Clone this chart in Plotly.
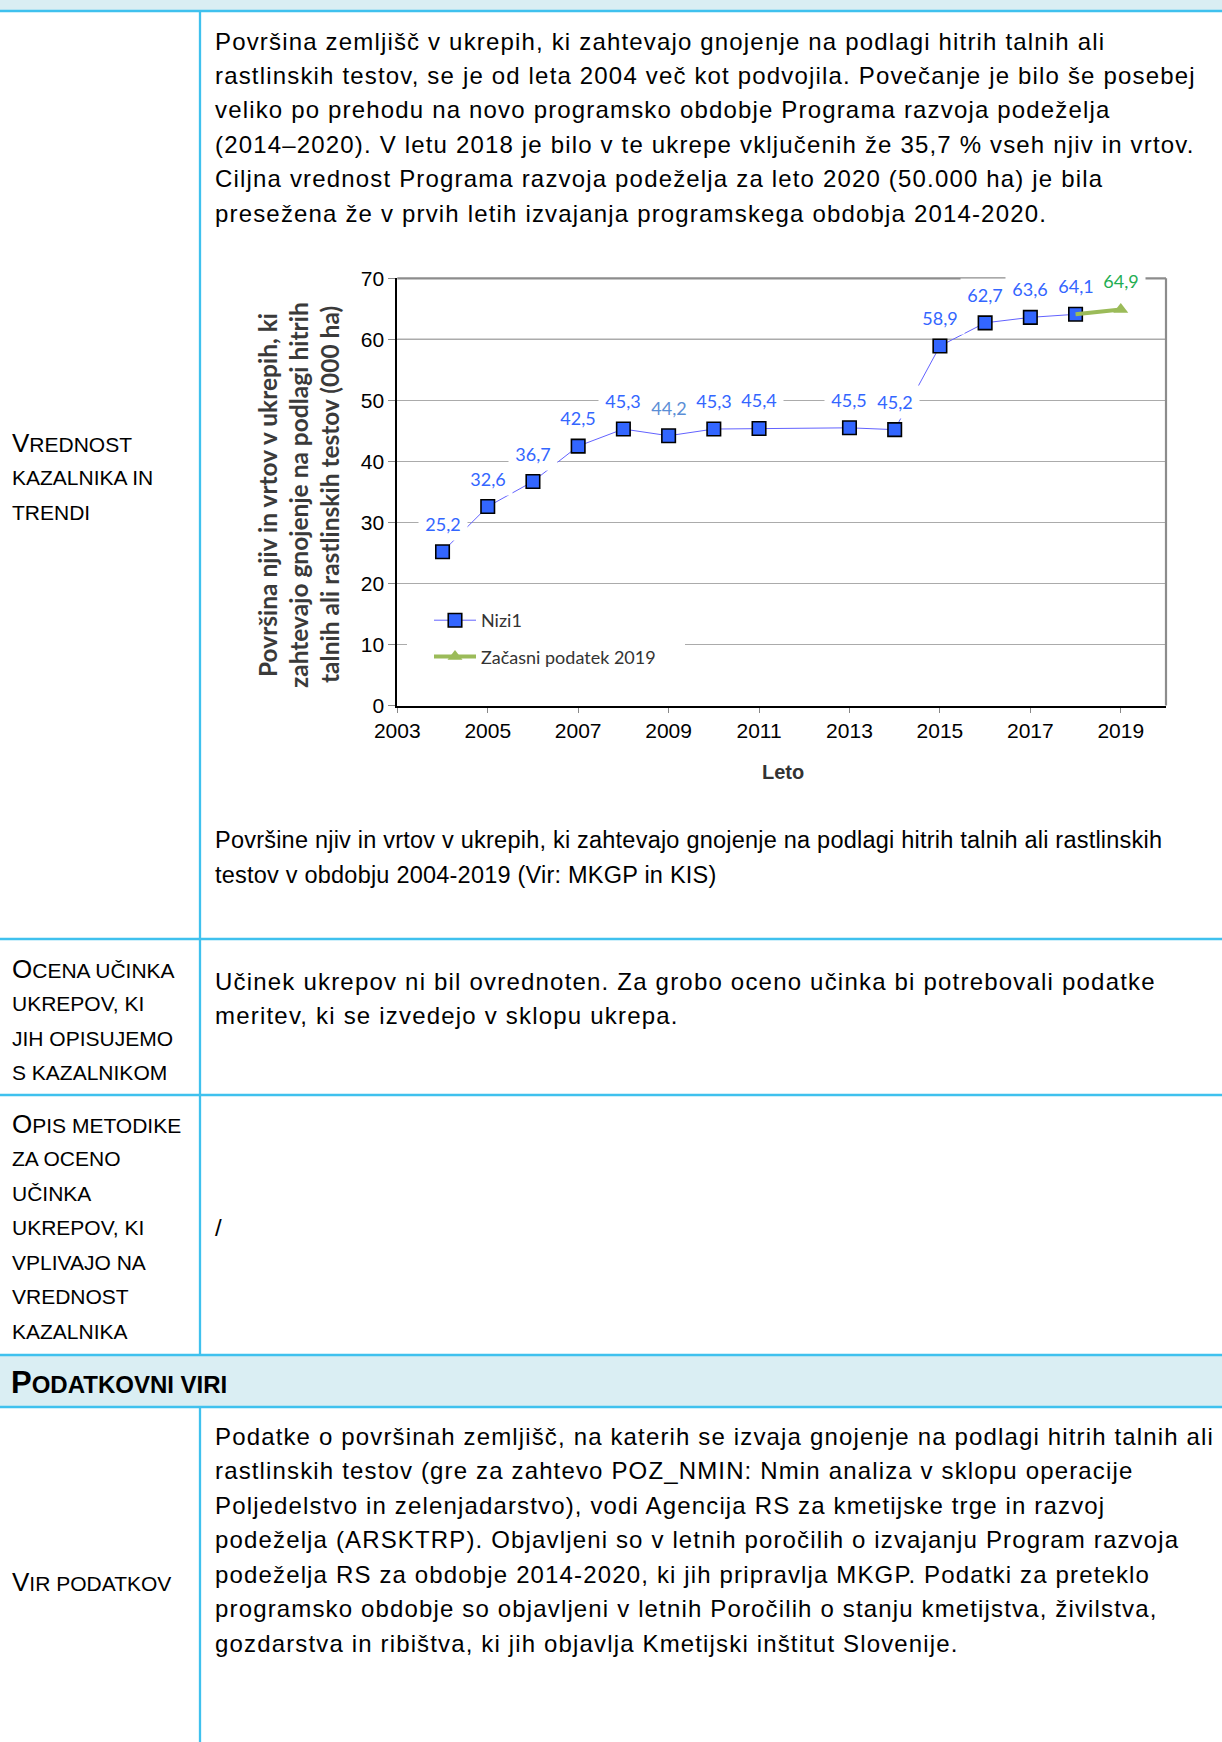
import plotly.graph_objects as go

# ---------------- data ----------------
years = [2004, 2005, 2006, 2007, 2008, 2009, 2010, 2011, 2013, 2014, 2015, 2016, 2017, 2018]
values = [25.2, 32.6, 36.7, 42.5, 45.3, 44.2, 45.3, 45.4, 45.5, 45.2, 58.9, 62.7, 63.6, 64.1]
prov_years = [2018, 2019]
prov_values = [64.1, 64.9]
series_names = ["Nizi1", "Začasni podatek 2019"]
x_tick_years = [2003, 2005, 2007, 2009, 2011, 2013, 2015, 2017, 2019]
y_ticks = [0, 10, 20, 30, 40, 50, 60, 70]

y_title_lines = [
    "Površina njiv in vrtov v ukrepih, ki",
    "zahtevajo gnojenje na podlagi hitrih",
    "talnih ali rastlinskih testov (000 ha)",
]
x_title = "Leto"

para1 = [
    "Površina zemljišč v ukrepih, ki zahtevajo gnojenje na podlagi hitrih talnih ali",
    "rastlinskih testov, se je od leta 2004 več kot podvojila. Povečanje je bilo še posebej",
    "veliko po prehodu na novo programsko obdobje Programa razvoja podeželja",
    "(2014–2020). V letu 2018 je bilo v te ukrepe vključenih že 35,7 % vseh njiv in vrtov.",
    "Ciljna vrednost Programa razvoja podeželja za leto 2020 (50.000 ha) je bila",
    "presežena že v prvih letih izvajanja programskega obdobja 2014-2020.",
]
caption = [
    "Površine njiv in vrtov v ukrepih, ki zahtevajo gnojenje na podlagi hitrih talnih ali rastlinskih",
    "testov v obdobju 2004-2019 (Vir: MKGP in KIS)",
]
para2 = [
    "Učinek ukrepov ni bil ovrednoten. Za grobo oceno učinka bi potrebovali podatke",
    "meritev, ki se izvedejo v sklopu ukrepa.",
]
para3 = ["/"]
para4 = [
    "Podatke o površinah zemljišč, na katerih se izvaja gnojenje na podlagi hitrih talnih ali",
    "rastlinskih testov (gre za zahtevo POZ_NMIN: Nmin analiza v sklopu operacije",
    "Poljedelstvo in zelenjadarstvo), vodi Agencija RS za kmetijske trge in razvoj",
    "podeželja (ARSKTRP). Objavljeni so v letnih poročilih o izvajanju Program razvoja",
    "podeželja RS za obdobje 2014-2020, ki jih pripravlja MKGP. Podatki za preteklo",
    "programsko obdobje so objavljeni v letnih Poročilih o stanju kmetijstva, živilstva,",
    "gozdarstva in ribištva, ki jih objavlja Kmetijski inštitut Slovenije.",
]
label1 = ["Vrednost", "kazalnika in", "trendi"]
label2 = ["Ocena učinka", "ukrepov, ki", "jih opisujemo", "s kazalnikom"]
label3 = ["Opis metodike", "za oceno", "učinka", "ukrepov, ki", "vplivajo na", "vrednost", "kazalnika"]
header = ["Podatkovni viri"]
label4 = ["Vir podatkov"]

# ---------------- layout helpers ----------------
W, H = 1222, 1742


def px(x):
    return x / W


def py(y):
    return 1 - y / H


BODY_FONT = "Liberation Sans"
LABEL_FONT = "Lato"
LINE_STEP = 34.5
TABLE_LINE = "#3FC1EE"
BAND_FILL = "#DAEEF3"

fig = go.Figure()

fig.add_trace(go.Scatter(
    x=years, y=values, mode="lines+markers", name=series_names[0],
    line=dict(color="#6262ff", width=1),
    marker=dict(symbol="square", size=13.5, color="#3366ff",
                line=dict(color="#000000", width=1.6)),
    legendgroup="a",
))
fig.add_trace(go.Scatter(
    x=prov_years, y=prov_values, mode="lines+markers", name=series_names[1],
    line=dict(color="#9bbb59", width=4),
    marker=dict(symbol="triangle-up", size=13, color="#9bbb59"),
    selectedpoints=[len(prov_years) - 1],
    selected=dict(marker=dict(opacity=1)),
    unselected=dict(marker=dict(opacity=0)),
    legendgroup="b",
))

annotations = []

# data labels
label_color_default = "#3366ff"
label_color_override = {2009: "#5b8ed6"}
prov_label_color = "#1fae52"


def fmt(v):
    return f"{v:.1f}".replace(".", ",")


for xv, yv in zip(years, values):
    annotations.append(dict(
        x=xv, y=yv, xref="x", yref="y", yshift=28, showarrow=False,
        text=fmt(yv), bgcolor="white", borderpad=5, width=38,
        font=dict(family=LABEL_FONT, size=18, color=label_color_override.get(xv, label_color_default)),
    ))
annotations.append(dict(
    x=prov_years[-1], y=prov_values[-1], xref="x", yref="y", yshift=28, showarrow=False,
    text=fmt(prov_values[-1]), bgcolor="white", borderpad=5, width=38,
    font=dict(family=LABEL_FONT, size=18, color=prov_label_color),
))

# axis titles
for i, line in enumerate(y_title_lines):
    annotations.append(dict(
        x=px(268 + 31 * i), y=py(495), xref="paper", yref="paper", showarrow=False,
        text=f"<b>{line}</b>", textangle=-90, xanchor="center", yanchor="middle",
        font=dict(family=LABEL_FONT, size=24.5, color="#3a3a3a"),
    ))
annotations.append(dict(
    x=px(783), y=py(772), xref="paper", yref="paper", showarrow=False,
    text=f"<b>{x_title}</b>", xanchor="center", yanchor="middle",
    font=dict(family=BODY_FONT, size=20, color="#333333"),
))


def add_lines(lines, x0, y0, size=23, family=BODY_FONT, color="#000000", spacing=0.0):
    for i, line in enumerate(lines):
        txt = line
        if spacing:
            txt = f'<span style="letter-spacing:{spacing}px">{line}</span>'
        annotations.append(dict(
            x=px(x0), y=py(y0 + i * LINE_STEP), xref="paper", yref="paper",
            showarrow=False, text=txt, xanchor="left", yanchor="middle",
            font=dict(family=family, size=size, color=color),
        ))


def smallcaps(lines, big=26, bold=False):
    out = []
    for i, line in enumerate(lines):
        s = line.upper()
        if i == 0:
            s = f'<span style="font-size:{big}px">{s[0]}</span>{s[1:]}'
        if bold:
            s = f"<b>{s}</b>"
        out.append(s)
    return out


add_lines(para1, 213, 41, size=24, spacing=1.17)
add_lines(caption, 213, 840, size=23.5, spacing=0.22)
add_lines(para2, 213, 981, size=24, spacing=1.2)
add_lines(para3, 213, 1227, size=24)
add_lines(para4, 213, 1436, size=24, spacing=1.15)

add_lines(smallcaps(label1), 10, 443, size=21)
add_lines(smallcaps(label2), 10, 969, size=21)
add_lines(smallcaps(label3), 10, 1124, size=21)
add_lines(smallcaps(header, big=31, bold=True), 9, 1382, size=24)
add_lines(smallcaps(label4), 10, 1582, size=21)

# table shapes
shapes = [
    dict(type="rect", xref="paper", yref="paper", x0=0, x1=1, y0=py(0), y1=py(11),
         fillcolor=BAND_FILL, line=dict(width=0), layer="below"),
    dict(type="rect", xref="paper", yref="paper", x0=0, x1=1, y0=py(1355), y1=py(1407),
         fillcolor=BAND_FILL, line=dict(width=0), layer="below"),
]
for yy in [11, 939, 1095, 1355, 1407]:
    shapes.append(dict(type="line", xref="paper", yref="paper", x0=0, x1=1, y0=py(yy), y1=py(yy),
                       line=dict(color=TABLE_LINE, width=2.3)))
for ya, yb in [(11, 1355), (1407, H)]:
    shapes.append(dict(type="line", xref="paper", yref="paper", x0=px(200), x1=px(200),
                       y0=py(ya), y1=py(yb), line=dict(color=TABLE_LINE, width=2.3)))

# chart frame details
shapes.append(dict(type="line", xref="x domain", yref="y", x0=0, x1=1, y0=60, y1=60,
                   line=dict(color="#5a5a5a", width=1.2), layer="below"))
shapes.append(dict(type="line", xref="x domain", yref="y domain", x0=0, x1=1, y0=1, y1=1,
                   line=dict(color="#8c8c8c", width=2.2), layer="above"))
shapes.append(dict(type="line", xref="x domain", yref="y domain", x0=1, x1=1, y0=0, y1=1,
                   line=dict(color="#8c8c8c", width=2.2), layer="above"))
# legend background
shapes.append(dict(type="rect", xref="paper", yref="paper", x0=px(407), x1=px(685),
                   y0=py(682), y1=py(598), fillcolor="white", line=dict(width=0), layer="above"))

fig.update_layout(
    width=W, height=H,
    margin=dict(l=0, r=0, t=0, b=0, pad=0, autoexpand=False),
    paper_bgcolor="white", plot_bgcolor="white",
    showlegend=True,
    legend=dict(
        x=px(429), y=py(602), xanchor="left", yanchor="top",
        bgcolor="rgba(0,0,0,0)", font=dict(family=LABEL_FONT, size=18, color="#333333"),
        tracegroupgap=10, itemwidth=42,
    ),
    xaxis=dict(
        domain=[px(397.3), px(1166)], range=[2003, 2020], automargin=False,
        tickmode="array", tickvals=x_tick_years, ticktext=[str(t) for t in x_tick_years],
        ticks="outside", ticklen=5, tickcolor="#888888", tickwidth=1,
        showline=True, linecolor="#000000", linewidth=2,
        showgrid=False, zeroline=False,
        tickfont=dict(family=BODY_FONT, size=21, color="#000000"),
    ),
    yaxis=dict(
        domain=[py(705.5), py(278.3)], range=[0, 70], automargin=False,
        tickmode="array", tickvals=y_ticks,
        ticks="outside", ticklen=7, tickcolor="#888888", tickwidth=1,
        showline=True, linecolor="#000000", linewidth=2,
        showgrid=True, gridcolor="#ababab", gridwidth=1, zeroline=False,
        tickfont=dict(family=BODY_FONT, size=21, color="#000000"),
    ),
    annotations=annotations,
    shapes=shapes,
)

fig.write_html(
    "out.html",
    config={"displayModeBar": False},
    post_script=(
        "document.documentElement.style.margin='0';"
        "document.body.style.margin='0';document.body.style.padding='0';"
        "document.documentElement.style.overflow='hidden';"
    ),
)
